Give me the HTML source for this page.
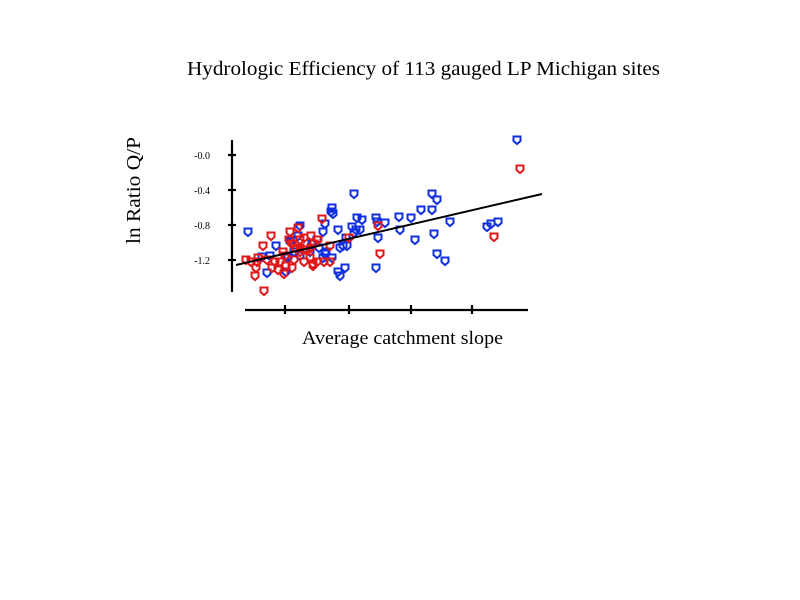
<!DOCTYPE html>
<html><head><meta charset="utf-8"><style>
html,body{margin:0;padding:0;background:#fff;}
svg{display:block;}
text{font-family:"Liberation Serif",serif;fill:#000;}
</style></head><body>
<svg width="800" height="600" viewBox="0 0 800 600">
<rect width="800" height="600" fill="#fff"/>
<text x="187" y="75" font-size="19.5" textLength="473" lengthAdjust="spacingAndGlyphs">Hydrologic Efficiency of 113 gauged LP Michigan sites</text>
<text transform="translate(140,244) rotate(-90)" font-size="19.5" textLength="107" lengthAdjust="spacingAndGlyphs">ln Ratio Q/P</text>
<text x="302" y="344" font-size="18.5" textLength="201" lengthAdjust="spacingAndGlyphs">Average catchment slope</text>
<g stroke="#000" stroke-width="2.2">
<line x1="232" y1="140" x2="232" y2="292"/>
<line x1="245" y1="310" x2="528" y2="310"/>
<line x1="228" y1="155" x2="236" y2="155"/>
<line x1="228" y1="190" x2="236" y2="190"/>
<line x1="228" y1="225" x2="236" y2="225"/>
<line x1="228" y1="260" x2="236" y2="260"/>
<line x1="285" y1="305" x2="285" y2="314"/>
<line x1="349" y1="305" x2="349" y2="314"/>
<line x1="411" y1="305" x2="411" y2="314"/>
<line x1="472" y1="305" x2="472" y2="314"/>
</g>
<g font-size="10" text-anchor="end">
<text x="210" y="159">-0.0</text>
<text x="210" y="194">-0.4</text>
<text x="210" y="229">-0.8</text>
<text x="210" y="264">-1.2</text>
</g>
<g id="pts" fill="none" stroke-width="2"></g>
<line x1="236" y1="265" x2="542" y2="194" stroke="#000" stroke-width="2"/>
</svg>
<script>
var blue=[[248,232],[517,140],[354,194],[432,194],[437,200],[421,210],[432,210],[399,217],[411,218],[376,218],[377,222],[362,220],[357,218],[385,223],[450,222],[332,208],[331,212],[325,224],[333,214],[300,226],[338,230],[352,227],[356,230],[323,232],[346,238],[354,233],[290,242],[317,240],[312,244],[347,246],[343,246],[340,248],[319,248],[262,257],[270,256],[287,257],[300,256],[310,252],[326,252],[332,258],[323,258],[325,254],[400,230],[415,240],[434,234],[437,254],[445,261],[376,268],[345,268],[340,276],[338,272],[286,272],[267,273],[288,258],[276,246],[491,224],[487,227],[498,222],[378,238],[298,236],[294,252],[360,230]];
var red=[[520,169],[494,237],[322,219],[378,226],[349,238],[246,260],[251,262],[256,268],[258,258],[255,276],[264,291],[263,246],[271,236],[275,262],[280,262],[286,266],[284,274],[289,240],[290,232],[292,244],[295,248],[300,252],[300,240],[304,238],[298,228],[304,262],[310,258],[313,264],[311,236],[313,266],[317,262],[324,262],[330,262],[318,240],[283,252],[285,256],[294,260],[300,248],[307,250],[311,248],[380,254],[330,246],[304,250],[314,244],[272,268],[278,270],[267,260],[257,262],[292,268]];
var g=document.getElementById('pts'),s='';
function p(a,c){a.forEach(function(q){var x=q[0],y=q[1];
s+='<path d="M'+(x-3.5)+' '+(y-3.5)+'L'+(x+3.5)+' '+(y-3.5)+'L'+(x+3.5)+' '+(y+1)+'L'+x+' '+(y+4)+'L'+(x-3.5)+' '+(y+1)+'Z" stroke="'+c+'"/>';});}
p(blue,'#1030e0');p(red,'#e01818');
g.innerHTML=s;
</script>
</body></html>
